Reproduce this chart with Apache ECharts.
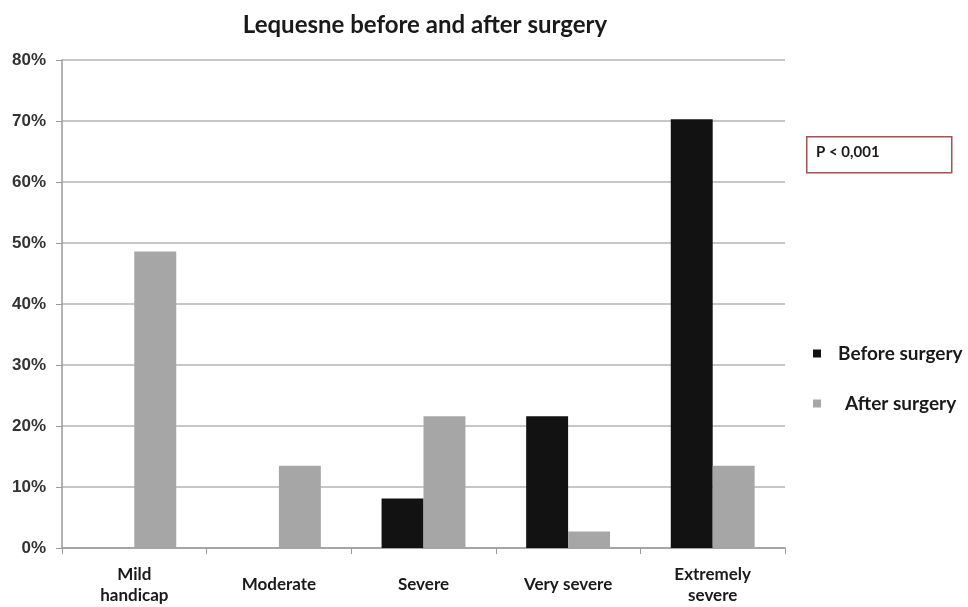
<!DOCTYPE html>
<html><head><meta charset="utf-8">
<script src="https://cdn.jsdelivr.net/npm/echarts@6/dist/echarts.min.js"></script>
<style>html,body{margin:0;padding:0;background:#fff}#c{width:968px;height:607px}</style>
</head><body><div id="c"></div>
<script>
var categories = ['Mild\nhandicap', 'Moderate', 'Severe', 'Very severe', 'Extremely\nsevere'];
var beforeSurgery = [0, 0, 8.1, 21.6, 70.3];
var afterSurgery = [48.6, 13.5, 21.6, 2.7, 13.5];
var yTicks = [0, 10, 20, 30, 40, 50, 60, 70, 80];
var seriesNames = ['Before surgery', 'After surgery'];
var titleText = 'Lequesne before and after surgery';
var pText = 'P < 0,001';

var chart = echarts.init(document.getElementById('c'));
chart.setOption({
  animation: false,
  backgroundColor: '#fff',
  title: {
    text: titleText, left: 420, top: 8, textAlign: 'center',
    textStyle: {fontFamily: 'Lato', fontWeight: 'bold', fontSize: 24, color: '#1a1a1a'}
  },
  grid: {left: 62, right: 183, top: 60, bottom: 59},
  legend: {
    orient: 'vertical', left: 808, top: 339, itemGap: 31,
    itemWidth: 8, itemHeight: 8, icon: 'rect',
    data: [
      {name: seriesNames[0]},
      {name: seriesNames[1], textStyle: {padding: [0, 0, 0, 19]}}
    ],
    textStyle: {fontFamily: 'Lato', fontWeight: 'bold', fontSize: 19, color: '#1a1a1a', padding: [0, 0, 0, 12]}
  },
  xAxis: {
    type: 'category', data: categories,
    axisLine: {lineStyle: {color: '#9a9a9a', width: 1.5}},
    axisTick: {show: true, length: 6, lineStyle: {color: '#9a9a9a'}},
    axisLabel: {
      fontFamily: 'Lato', fontWeight: 'bold', fontSize: 17, color: '#1a1a1a',
      lineHeight: 21, verticalAlign: 'middle', margin: 37, interval: 0
    }
  },
  yAxis: {
    type: 'value', min: yTicks[0], max: yTicks[yTicks.length - 1], interval: 10,
    axisLine: {show: true, lineStyle: {color: '#9a9a9a', width: 1.5}},
    axisTick: {show: true, length: 6, lineStyle: {color: '#9a9a9a'}},
    axisLabel: {
      fontFamily: 'Liberation Sans', fontWeight: 'bold', fontSize: 17, color: '#333',
      margin: 16, formatter: function (v) { return v + '%'; }
    },
    splitLine: {lineStyle: {color: '#b5b5b5', width: 1.5}}
  },
  series: [
    {name: seriesNames[0], type: 'bar', data: beforeSurgery, barGap: '0%', barCategoryGap: '42%',
     itemStyle: {color: '#111211'}},
    {name: seriesNames[1], type: 'bar', data: afterSurgery, barGap: '0%', barCategoryGap: '42%',
     itemStyle: {color: '#a6a6a6'}}
  ],
  graphic: [
    {type: 'rect', left: 806, top: 136, shape: {width: 145, height: 36},
     style: {fill: '#fff', stroke: '#a05555', lineWidth: 1.5}},
    {type: 'text', left: 816, top: 145,
     style: {text: pText, fontFamily: 'Lato', fontWeight: 'bold', fontSize: 15, fill: '#1a1a1a'}}
  ]
});
</script></body></html>
